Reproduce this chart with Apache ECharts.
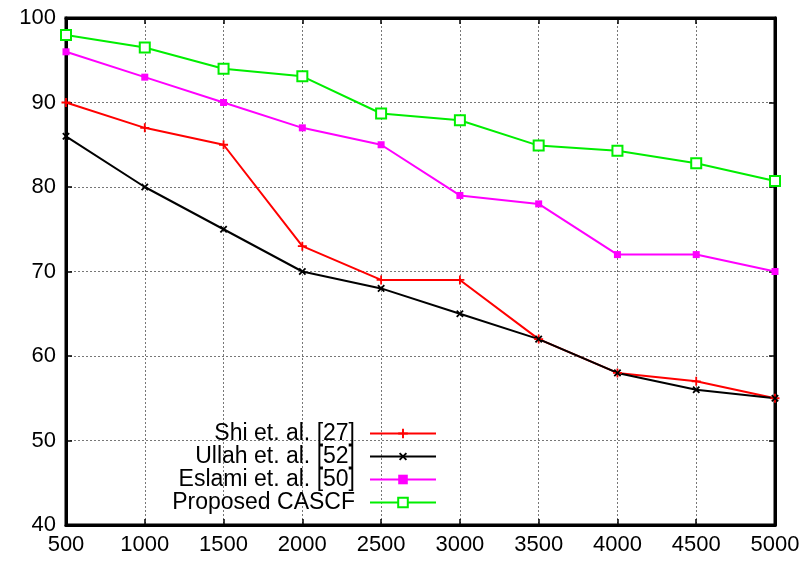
<!DOCTYPE html>
<html>
<head>
<meta charset="utf-8">
<script src="https://cdn.jsdelivr.net/npm/echarts@6/dist/echarts.min.js"></script>
<style>
  html, body { margin: 0; padding: 0; background: #fff; }
  #chart { width: 806px; height: 561px; }
</style>
</head>
<body>
<div id="chart"></div>
<script>
var xValues = [500, 1000, 1500, 2000, 2500, 3000, 3500, 4000, 4500, 5000];
var shi = [90, 87, 85, 73, 69, 69, 62, 58, 57, 55];
var ullah = [86, 80, 75, 70, 68, 65, 62, 58, 56, 55];
var eslami = [96, 93, 90, 87, 85, 79, 78, 72, 72, 70];
var cascf = [98, 96.5, 94, 93.1, 88.7, 87.9, 84.9, 84.3, 82.8, 80.7];
var names = ['Shi et. al. [27]', 'Ullah et. al. [52]', 'Eslami et. al. [50]', 'Proposed CASCF'];

var font = "'Liberation Sans', Arial, Helvetica, sans-serif";
var plusPath = 'path://M4,0H6V4H10V6H6V10H4V6H0V4H4Z';

function pairs(ys) {
	return xValues.map(function(x, i) { return [x, ys[i]]; });
}

var myChart = echarts.init(document.getElementById('chart'));

function makeSeries(name, ys, color, symbol, size, rotate) {
	return {
		name: name,
		type: 'line',
		data: pairs(ys),
		symbol: symbol,
		symbolSize: size,
		symbolRotate: rotate || 0,
		lineStyle: { color: color, width: 2 },
		itemStyle: { color: color, borderColor: color, borderWidth: symbol == 'emptyRect' ? 1.5 : 0 },
		emphasis: { disabled: true },
		z: 3
	};
}

// gnuplot-like legend: text on the left, sample on the right, one box per row
var legends = names.map(function(n, i) {
	return {
		data: [n],
		right: 369,
		top: 422 + i * 23,
		padding: 0,
		align: 'right',
		itemWidth: 66,
		itemHeight: 12,
		textStyle: { fontFamily: font, fontSize: 23, color: '#000', padding: [0, 10, 0, 0] },
		selectedMode: false
	};
});

var axisLabelStyle = { fontFamily: font, fontSize: 22, color: '#000' };
var split = { show: true, lineStyle: { type: [2, 2], color: '#777', width: 1 } };

var option = {
	animation: false,
	backgroundColor: '#fff',
	legend: legends,
	grid: { left: 66, right: 31, top: 18, bottom: 36, show: true, borderColor: '#000', borderWidth: 3 },
	xAxis: [{
		type: 'value', min: 500, max: 5000, interval: 500,
		axisLine: { show: true, lineStyle: { color: '#000', width: 3 } },
		axisTick: { inside: true, length: 6, lineStyle: { color: '#000', width: 1.5 } },
		axisLabel: Object.assign({ margin: 9, formatter: function(v) { return String(v); } }, axisLabelStyle),
		splitLine: split
	}, {
		type: 'value', position: 'top', min: 500, max: 5000, interval: 500,
		axisLine: { show: true, lineStyle: { color: '#000', width: 3 } },
		axisTick: { inside: true, length: 6, lineStyle: { color: '#000', width: 1.5 } },
		axisLabel: { show: false },
		splitLine: { show: false }
	}],
	yAxis: [{
		type: 'value', min: 40, max: 100, interval: 10,
		axisLine: { show: true, lineStyle: { color: '#000', width: 3 } },
		axisTick: { show: true, inside: true, length: 6, lineStyle: { color: '#000', width: 1.5 } },
		axisLabel: Object.assign({ margin: 10 }, axisLabelStyle),
		splitLine: split
	}, {
		type: 'value', position: 'right', min: 40, max: 100, interval: 10,
		axisLine: { show: true, lineStyle: { color: '#000', width: 3 } },
		axisTick: { show: true, inside: true, length: 6, lineStyle: { color: '#000', width: 1.5 } },
		axisLabel: { show: false },
		splitLine: { show: false }
	}],
	series: [
		makeSeries(names[0], shi, '#ff0000', plusPath, 9),
		makeSeries(names[1], ullah, '#000000', plusPath, 9, 45),
		makeSeries(names[2], eslami, '#ff00ff', 'rect', 7),
		makeSeries(names[3], cascf, '#00ee00', 'emptyRect', 10)
	]
};
myChart.setOption(option);
</script>
</body>
</html>
